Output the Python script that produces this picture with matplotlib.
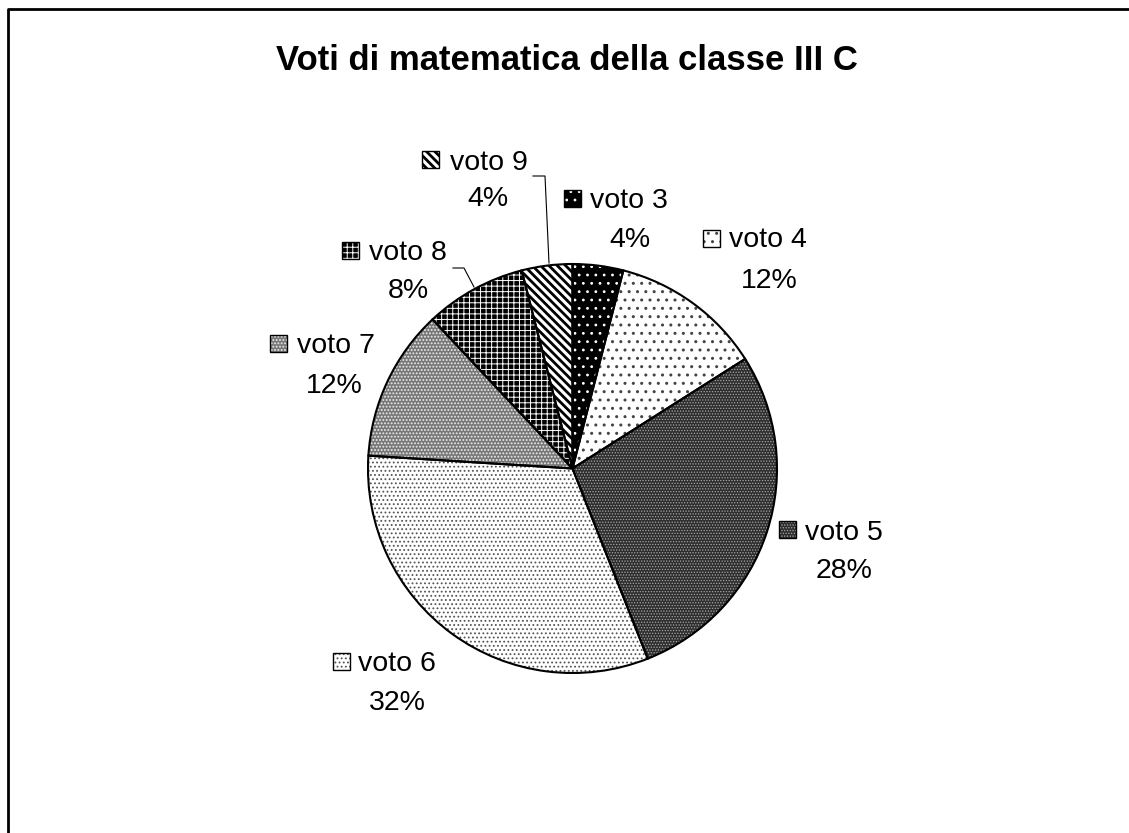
import matplotlib
matplotlib.use('Agg')
import matplotlib.pyplot as plt
import matplotlib.patches as pch

plt.rcParams['font.family'] = ['Liberation Sans', 'DejaVu Sans']
plt.rcParams['hatch.linewidth'] = 1.0

# data: grades of class III C
voti = ['voto 3', 'voto 4', 'voto 5', 'voto 6', 'voto 7', 'voto 8', 'voto 9']
percentuali = [4, 12, 28, 32, 12, 8, 4]

# fill styles (face colour, hatch, hatch colour, hatch width) for each slice
facce = ['black', 'white', '#2e2e2e', 'white', '#777777', 'black', 'white']
tratteggi = ['..', '..', '......', '....', '.....', '+++', '\\\\\\\\']
colori_tratt = ['white', '#444444', '#a8a8a8', '#555555', '#eeeeee', 'white', 'black']
spessori = [0.8, 1.0, 0.6, 0.8, 0.9, 0.7, 2.0]

# label centres in pixels (top-left origin): name line, percent line, icon centre
pos_nome = [(629, 198), (768, 237), (844, 530), (397, 661), (336, 343), (408, 250), (489, 160)]
pos_perc = [(630, 237), (769, 278), (844, 568), (397, 700), (334, 383), (408, 288), (488, 196)]
pos_icona = [(572, 198), (711, 238), (787, 529), (341, 661), (278, 343), (350, 250), (430, 159)]

W, H = 1129, 833
fig = plt.figure(figsize=(W / 100, H / 100), dpi=100)
ax = fig.add_axes([0, 0, 1, 1])

cx, cy, r = 572.5, H - 468.5, 204.5


def stile(p, i):
    p.set_hatch(tratteggi[i])
    p.set_edgecolor(colori_tratt[i])
    p.set_linewidth(0)
    try:
        p.set_hatch_linewidth(spessori[i])
    except AttributeError:
        p._hatch_linewidth = spessori[i]


# fill pass: edgecolour is used as hatch colour
wedges, _ = ax.pie(percentuali, startangle=90, counterclock=False,
                   center=(cx, cy), radius=r, frame=True,
                   colors=facce, wedgeprops=dict(linewidth=0))
for i, w in enumerate(wedges):
    stile(w, i)

# outline pass
ax.pie(percentuali, startangle=90, counterclock=False,
       center=(cx, cy), radius=r, frame=True,
       wedgeprops=dict(fill=False, edgecolor='black', linewidth=1.5))

ax.set_xlim(0, W)
ax.set_ylim(0, H)
ax.set_aspect('equal')
ax.axis('off')

# labels with legend keys
s = 17
for i, v in enumerate(voti):
    xn, yn = pos_nome[i]
    xp, yp = pos_perc[i]
    xi, yi = pos_icona[i]
    ax.text(xn, H - yn - 10, v, ha='center', va='baseline', fontsize=20.5)
    ax.text(xp, H - yp - 10, '%d%%' % percentuali[i], ha='center', va='baseline', fontsize=20.5)
    key = pch.Rectangle((xi - s / 2, H - yi - s / 2), s, s, facecolor=facce[i])
    ax.add_patch(key)
    stile(key, i)
    ax.add_patch(pch.Rectangle((xi - s / 2, H - yi - s / 2), s, s, fill=False,
                               edgecolor='black', linewidth=1))

# leader lines for the two small slices
ax.plot([533, 545, 549], [H - 176, H - 176, H - 263], color='black', linewidth=0.8)
ax.plot([453, 464, 474], [H - 268, H - 268, H - 287], color='black', linewidth=0.8)

# title
ax.text(567, H - 70, 'Voti di matematica della classe III C', ha='center',
        va='baseline', fontsize=25, fontweight='bold')

# chart area frame (left and top edges visible)
ax.plot([8, 8, W], [0, H - 8.5, H - 8.5], color='black', linewidth=2, clip_on=False)

fig.savefig('out.png', dpi=100)
